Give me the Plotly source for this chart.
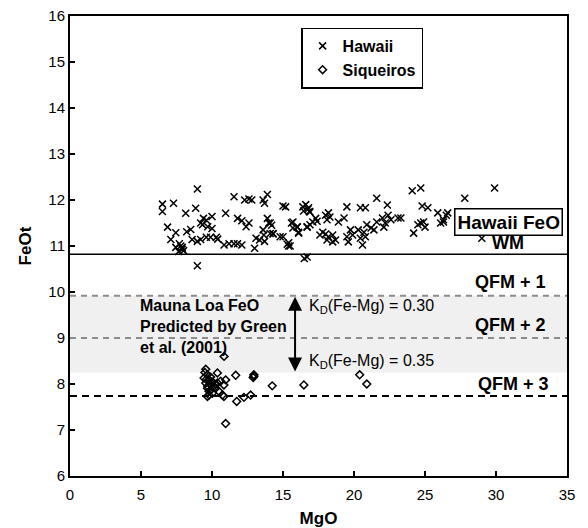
import plotly.graph_objects as go

# ---- data ----
hawaii_mgo = [8.97, 6.51, 6.51, 7.29, 8.15, 8.85, 6.87, 7.45, 7.1, 7.45, 7.8, 7.9, 8.0, 7.65, 7.9, 7.7,
              8.22, 8.5, 8.6, 8.97, 9.2, 9.4, 9.6, 10.0, 9.33, 9.7, 10.0, 9.2, 9.6, 9.9, 10.3, 10.4, 8.97,
              10.96, 11.55, 11.8, 12.1, 12.4, 12.6, 10.85, 11.2, 11.55, 11.8, 12.1, 13.0, 13.1, 13.35,
              13.6, 13.65, 13.7, 12.3, 12.6, 12.8, 13.6, 13.9, 13.7, 13.9, 14.0, 14.2, 14.1, 14.3, 15.0,
              14.8, 15.3, 15.4, 15.6, 16.0, 16.1, 16.7, 16.4, 16.6, 16.75, 16.85, 16.5, 16.7,
              15.18, 14.1, 14.3, 16.45, 16.9, 16.8, 17.3, 17.4, 17.1, 15.7, 16.0, 16.1, 15.7, 15.0, 15.4,
              15.5, 16.7, 16.9, 18.0, 18.2, 18.1, 18.3, 17.6, 18.0, 18.2, 18.5, 18.1, 18.5, 18.7, 17.8,
              18.9, 19.3, 19.5, 19.5, 19.75, 19.6, 19.9, 20.45, 20.8, 20.3, 20.7, 20.45, 20.6, 20.8, 20.9,
              21.2, 21.4, 21.6, 22.0, 22.1, 22.4, 22.6, 22.2, 21.6, 22.35, 23.1,
              24.1, 24.7, 24.8, 25.2, 23.3, 24.7, 24.9, 25.0, 24.5, 24.2, 25.9, 26.1, 26.3, 26.6, 27.8,
              29.9, 29.0, 26.5, 26.3]
hawaii_feo = [12.24, 11.91, 11.75, 11.93, 11.71, 11.82, 11.41, 11.29, 11.14, 10.97, 11.0, 10.97, 10.9,
              10.88, 10.93, 11.05, 11.31, 11.36, 11.14, 11.1, 11.14, 11.6, 11.56, 11.64, 11.46, 11.42,
              11.38, 11.5, 11.19, 11.19, 11.19, 11.15, 10.57, 11.71, 12.07, 11.6, 11.55, 11.42, 11.5,
              11.02, 11.05, 11.05, 11.05, 11.02, 10.95, 11.17, 11.13, 11.35, 11.24, 11.1, 12.0, 12.02,
              12.0, 12.0, 12.12, 11.93, 11.6, 11.5, 11.45, 11.27, 11.27, 11.87, 11.2, 11.04, 11.0, 11.5,
              11.42, 11.3, 11.42, 11.85, 11.9, 11.8, 11.75, 10.73, 10.76,
              11.85, 11.5, 11.26, 11.76, 11.74, 11.83, 11.6, 11.54, 11.52, 11.52, 11.41, 11.28, 11.39,
              11.2, 11.07, 11.0, 11.41, 11.46, 11.67, 11.72, 11.57, 11.63, 11.24, 11.26, 11.2, 11.24,
              11.13, 11.09, 11.13, 11.3, 11.52, 11.61, 11.85, 11.2, 11.35, 11.09, 11.24, 11.83, 11.83,
              11.35, 11.3, 11.17, 11.02, 11.2, 11.46, 11.39, 11.35, 11.52, 11.61, 11.41, 11.67, 11.57,
              11.5, 12.04, 11.89, 11.61,
              12.2, 12.26, 11.87, 11.83, 11.61, 11.5, 11.52, 11.41, 11.46, 11.28, 11.72, 11.5, 11.57,
              11.72, 12.04, 12.26, 11.17, 11.67, 11.52]

siq_mgo = [10.85, 9.56, 9.68, 9.44, 9.79, 9.56, 9.91, 9.68, 9.79, 10.03, 9.79, 10.14, 10.38, 10.26,
           10.61, 10.84, 10.96, 10.49, 10.73, 10.84, 9.68, 9.91, 10.38, 11.67, 12.95, 12.95, 12.9,
           12.72, 12.25, 11.74, 10.96, 14.24, 16.47, 20.4, 20.9, 9.5, 9.6, 9.9, 10.2, 9.7, 10.0]
siq_feo = [8.6, 8.32, 8.2, 8.13, 8.09, 8.02, 7.98, 7.91, 7.84, 7.8, 7.76, 7.95, 8.02, 7.91, 8.06,
           7.98, 8.09, 7.84, 7.76, 7.73, 7.73, 7.87, 8.24, 8.19, 8.17, 8.2, 8.14, 7.76, 7.71, 7.62,
           7.14, 7.96, 7.98, 8.2, 8.0, 8.25, 8.1, 8.15, 8.0, 7.95, 8.05]

hawaii_wm = 10.82
qfm_levels = [9.92, 9.0, 7.74]
band = [8.25, 9.92]
x_range = [0, 35]
y_range = [6, 16]

FONT = "Liberation Sans, Arial, Helvetica, sans-serif"

fig = go.Figure()
fig.add_trace(go.Scatter(x=hawaii_mgo, y=hawaii_feo, mode="markers", name="<b>Hawaii</b>",
                         marker=dict(symbol="x-thin-open", size=7, color="black",
                                     line=dict(color="black", width=1.5))))
fig.add_trace(go.Scatter(x=siq_mgo, y=siq_feo, mode="markers", name="<b>Siqueiros</b>",
                         marker=dict(symbol="diamond-open", size=6, color="black",
                                     line=dict(color="black", width=1.5))))

# shaded band
fig.add_shape(type="rect", xref="x", yref="y", x0=x_range[0], x1=x_range[1], y0=band[0], y1=band[1],
              fillcolor="rgb(240,240,240)", line=dict(width=0), layer="below")
# horizontal lines
fig.add_shape(type="line", xref="x", yref="y", x0=x_range[0], x1=x_range[1], y0=hawaii_wm, y1=hawaii_wm,
              line=dict(color="black", width=1.5))
fig.add_shape(type="line", xref="x", yref="y", x0=x_range[0], x1=x_range[1], y0=qfm_levels[0], y1=qfm_levels[0],
              line=dict(color="rgb(140,140,140)", width=2, dash="6px,5px"))
fig.add_shape(type="line", xref="x", yref="y", x0=x_range[0], x1=x_range[1], y0=qfm_levels[1], y1=qfm_levels[1],
              line=dict(color="rgb(140,140,140)", width=2, dash="6px,5px"))
fig.add_shape(type="line", xref="x", yref="y", x0=x_range[0], x1=x_range[1], y0=qfm_levels[2], y1=qfm_levels[2],
              line=dict(color="black", width=2, dash="7px,5px"))

ann = []
ann.append(dict(x=30.85, y=11.53, text="<b>Hawaii FeO</b>", showarrow=False, font=dict(size=19, color="black", family=FONT),
                bordercolor="black", borderwidth=1.5, borderpad=2, bgcolor="white", xanchor="center", yanchor="middle"))
ann.append(dict(x=30.85, y=10.80, text="<b>WM</b>", showarrow=False, font=dict(size=18, color="black", family=FONT),
                xanchor="center", yanchor="bottom"))
ann.append(dict(x=33.66, y=9.95, text="<b>QFM + 1</b>", showarrow=False, font=dict(size=18, color="black", family=FONT),
                xanchor="right", yanchor="bottom"))
ann.append(dict(x=33.66, y=9.02, text="<b>QFM + 2</b>", showarrow=False, font=dict(size=18, color="black", family=FONT),
                xanchor="right", yanchor="bottom"))
ann.append(dict(x=33.85, y=7.74, text="<b>QFM + 3</b>", showarrow=False, font=dict(size=18, color="black", family=FONT),
                xanchor="right", yanchor="bottom"))
ann.append(dict(x=16.69, y=9.68, text="K<sub>D</sub>(Fe-Mg) = 0.30", showarrow=False,
                font=dict(size=16, color="black", family=FONT), xanchor="left", yanchor="middle"))
ann.append(dict(x=16.69, y=8.48, text="K<sub>D</sub>(Fe-Mg) = 0.35", showarrow=False,
                font=dict(size=16, color="black", family=FONT), xanchor="left", yanchor="middle"))
ann.append(dict(x=4.79, y=9.25, text="<b>Mauna Loa FeO<br>Predicted by Green<br>et al. (2001)</b>", showarrow=False,
                font=dict(size=16, color="black", family=FONT), xanchor="left", yanchor="middle", align="left"))
ann.append(dict(x=15.85, y=8.27, ax=15.85, ay=9.93, axref="x", ayref="y", xref="x", yref="y", text="",
                showarrow=True, arrowhead=2, startarrowhead=2, arrowside="end+start", arrowwidth=2,
                arrowsize=1.4, startarrowsize=1.4, arrowcolor="black"))

fig.update_layout(
    width=588, height=528,
    margin=dict(l=70, r=21, t=16, b=52, autoexpand=False),
    paper_bgcolor="white", plot_bgcolor="white",
    font=dict(family=FONT, color="black", size=15),
    annotations=ann,
    legend=dict(x=0.465, y=0.975, xanchor="left", yanchor="top", bordercolor="black", borderwidth=1.5,
                bgcolor="white", font=dict(size=16, family=FONT), itemwidth=30, tracegroupgap=0,
                itemsizing="trace"),
    showlegend=True,
)
fig.update_xaxes(range=x_range, dtick=5, tick0=0, showgrid=False, zeroline=False, showline=True, linecolor="black",
                 linewidth=2, mirror=True, ticks="inside", ticklen=5, tickwidth=2, tickcolor="black",
                 tickfont=dict(size=15), ticklabelstandoff=4, automargin=False,
                 title=dict(text="<b>MgO</b>", font=dict(size=17), standoff=10))
fig.update_yaxes(range=y_range, dtick=1, tick0=6, showgrid=False, zeroline=False, showline=True, linecolor="black",
                 linewidth=2, mirror=True, ticks="inside", ticklen=5, tickwidth=2, tickcolor="black",
                 tickfont=dict(size=15), automargin=False,
                 title=dict(text="<b>FeOt</b>", font=dict(size=17), standoff=12))

fig.write_html("out.html")
